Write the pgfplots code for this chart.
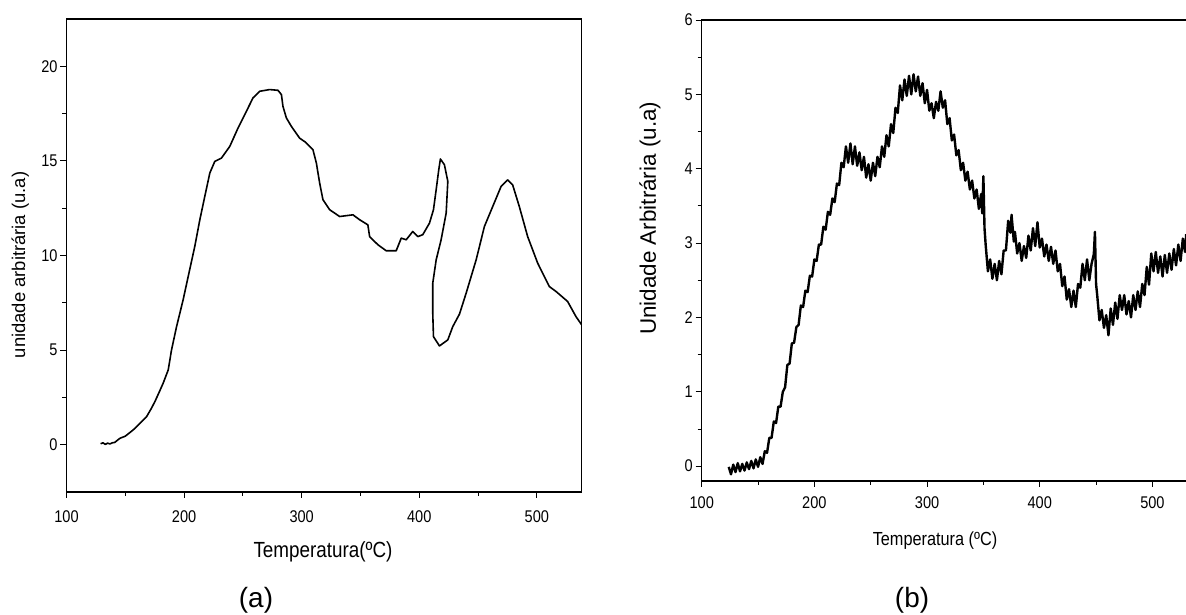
\documentclass[border=0pt]{standalone}
\usepackage{fontspec}
\setmainfont{Liberation Sans}
\usepackage{pgfplots}
\pgfplotsset{compat=1.18}

\pgfplotsset{
  tpd/.style={
    scale only axis,
    anchor=south west,
    tick align=outside,
    xtick pos=left, ytick pos=left,
    minor x tick num=1, minor y tick num=1,
    major tick length=6bp, minor tick length=4bp,
    every tick/.style={black, line width=0.9bp},
    axis line style={line width=1.1bp},
    /pgf/number format/assume math mode=true,
    tick label style={font=\fontsize{17}{17}\selectfont, xscale=0.86},
  },
}

\begin{document}
\begin{tikzpicture}
\useasboundingbox (0,0) rectangle (1186bp,615bp);

% (a)
\begin{axis}[tpd,
  at={(66.5bp,123bp)}, width=515bp, height=473bp,
  xmin=100, xmax=538, ymin=-2.5, ymax=22.5,
  xtick={100,200,300,400,500}, ytick={0,5,10,15,20},
  xticklabel style={yshift=-9bp},
  xlabel={Temperatura(ºC)},
  ylabel={unidade arbitrária (u.a)},
  xlabel style={at={(axis description cs:0.498,-0.127)}, anchor=center, font=\fontsize{22}{22}\selectfont, xscale=0.86},
  ylabel style={at={(axis description cs:-0.090,0.48)}, anchor=center, font=\fontsize{18.5}{18.5}\selectfont},
]
\addplot[black, line width=1.6bp, line join=round] coordinates {
(129,0.05) (131,0.1) (133,0.02) (135,0.08) (137,0.04) (139,0.1) (141,0.12) (143,0.22)
(145.5,0.34) (150,0.45) (156.7,0.78) (162,1.1) (168.1,1.48) (172,1.9) (175.2,2.28)
(179,2.8) (182.2,3.25) (186.5,3.95) (189.3,5.0) (193.6,6.24) (199.2,7.66) (203.5,8.89)
(209.1,10.48) (213.4,11.89) (217.6,13.12) (221.9,14.36) (226.1,14.97) (231.8,15.15)
(238.9,15.77) (245.9,16.74) (253.0,17.62) (258.6,18.33) (264.3,18.68) (272.8,18.77)
(279.9,18.73) (282.8,18.5) (284.1,17.88) (287,17.27) (291.3,16.82) (298.3,16.2)
(303,16.0) (309.6,15.59) (312.5,14.89) (315.3,13.83) (318.1,12.95) (323.8,12.42)
(332.3,12.06) (343.6,12.15) (349.3,11.89) (356.3,11.62) (357.8,11.0) (364.8,10.57)
(371.9,10.25) (380.4,10.25) (384.7,10.92) (388.9,10.83) (394.5,11.27) (398.8,11.0)
(403,11.1) (408.7,11.71) (412.1,12.42) (414.4,13.48) (416.6,14.53) (418,15.1)
(421.4,14.8) (424.3,13.92) (422.9,12.24) (418.6,10.83) (414.4,9.77) (411.5,8.54)
(411.5,6.95) (412.1,5.71) (417.2,5.22) (424.3,5.54) (428.5,6.24) (434.2,6.9)
(439.9,8.01) (448.4,9.77) (455.4,11.53) (462.5,12.59) (469.6,13.65) (475.2,14.0)
(479.4,13.74) (485.1,12.59) (492.2,11.0) (500.7,9.6) (510.6,8.36) (516.3,8.1)
(526.2,7.57) (533.3,6.77) (538,6.35)
};
\end{axis}

% (b)
\begin{axis}[tpd,
  at={(701.7bp,134bp)}, width=484.5bp, height=461bp,
  xmin=100, xmax=530, ymin=-0.2, ymax=6,
  xtick={100,200,300,400,500}, ytick={0,1,2,3,4,5,6},
  xticklabel style={yshift=-6bp},
  xlabel={Temperatura (ºC)},
  ylabel={Unidade Arbitrária (u.a)},
  xlabel style={at={(axis description cs:0.4815,-0.130)}, anchor=center, font=\fontsize{19}{19}\selectfont, xscale=0.86},
  ylabel style={at={(axis description cs:-0.1067,0.57)}, anchor=center, font=\fontsize{22.5}{22.5}\selectfont},
]
\addplot[black, line width=2.4bp, line join=round] coordinates {
(124,-0.01) (126,-0.11) (128,0.02) (130,-0.08) (132,0.04) (134,-0.07) (136,0.03) (138,-0.06)
(140,0.05) (142,-0.04) (144,0.07) (146,-0.03) (148,0.09) (150,-0.01) (152,0.12) (154,0.03)
(156,0.2) (158,0.18) (160,0.38) (162,0.38) (164,0.6) (166,0.58) (168,0.8) (170,0.8)
(172,1.0) (174,1.06) (176,1.36) (178,1.38) (180,1.65) (182,1.66) (184,1.87) (186,1.9)
(188,2.16) (190,2.14) (192,2.36) (194,2.34) (196,2.56) (198,2.55) (200,2.78) (202,2.76)
(204,2.98) (206,2.98) (208,3.22) (210,3.18) (212,3.42) (214,3.38) (216,3.6) (218,3.55)
(220,3.8) (222,3.78) (224,4.08) (226,4.02) (228,4.3) (230,4.08) (232,4.34) (234,4.06)
(236,4.3) (238,4.04) (240,4.22) (242,3.98) (244,4.16) (246,3.88) (248,4.06) (250,3.84)
(252,4.08) (254,3.9) (256,4.16) (258,4.02) (260,4.3) (262,4.16) (264,4.45) (266,4.3)
(268,4.6) (270,4.48) (272,4.82) (274,4.75) (276,5.12) (278,4.92) (280,5.2) (282,4.98)
(284,5.25) (286,5.0) (288,5.27) (290,5.04) (292,5.24) (294,4.98) (296,5.15) (298,4.88)
(300,5.06) (302,4.78) (304,4.88) (306,4.68) (308,4.9) (310,4.78) (312,5.04) (314,4.82)
(316,4.92) (318,4.6) (320,4.68) (322,4.38) (324,4.46) (326,4.18) (328,4.25) (330,3.98)
(332,4.08) (334,3.84) (336,3.96) (338,3.72) (340,3.84) (342,3.6) (344,3.72) (346,3.46)
(348,3.66) (349,3.4) (350,3.9) (351,3.2) (352,2.98) (354,2.62) (356,2.78) (358,2.52)
(360,2.72) (362,2.5) (364,2.76) (366,2.58) (368,2.9) (370,2.9) (372,3.3) (374,3.14)
(375,3.38) (377,3.02) (378,3.15) (380,2.86) (382,3.0) (384,2.76) (386,2.96) (388,2.8)
(390,3.1) (392,2.9) (394,3.2) (396,2.96) (398,3.28) (400,2.94) (402,3.06) (404,2.82)
(406,2.98) (408,2.76) (410,2.95) (412,2.72) (414,2.9) (416,2.62) (418,2.72) (420,2.42)
(422,2.55) (424,2.24) (426,2.38) (428,2.14) (430,2.36) (432,2.14) (434,2.45) (436,2.4)
(438,2.72) (440,2.5) (442,2.78) (444,2.5) (446,2.72) (448,2.85) (449,3.15) (450,2.45)
(451,2.3) (453,1.96) (455,2.1) (457,1.86) (459,2.03) (461,1.76) (463,2.12) (465,1.9)
(467,2.2) (469,1.98) (471,2.3) (473,2.1) (475,2.3) (477,2.04) (479,2.22) (481,2.0)
(483,2.3) (485,2.1) (487,2.35) (489,2.14) (491,2.45) (493,2.3) (495,2.68) (497,2.44)
(499,2.86) (501,2.62) (503,2.88) (505,2.6) (507,2.82) (509,2.55) (511,2.84) (513,2.6)
(515,2.86) (517,2.64) (519,2.92) (521,2.7) (523,2.98) (525,2.76) (527,3.06) (529,2.88)
(530,3.12)
};
\end{axis}

\node[font=\fontsize{28}{28}\selectfont] at (256bp,15bp) {(a)};
\node[font=\fontsize{28}{28}\selectfont] at (912bp,15bp) {(b)};
\end{tikzpicture}
\end{document}
